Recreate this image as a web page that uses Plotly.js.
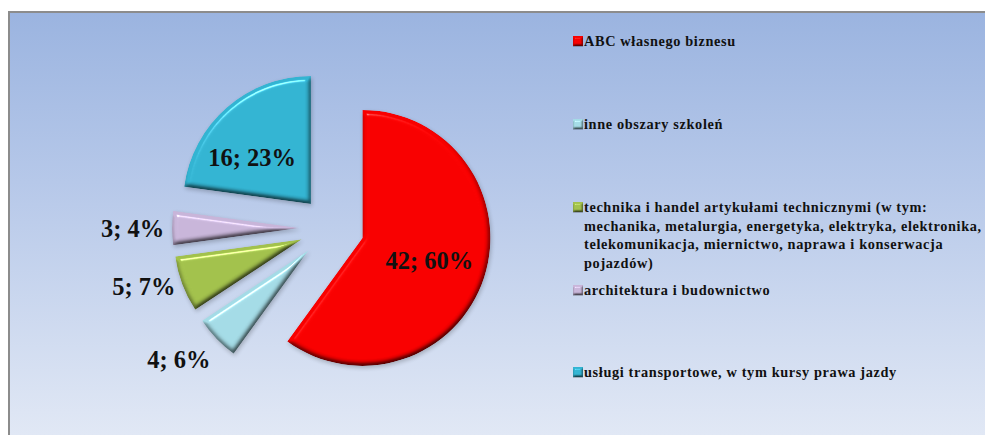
<!DOCTYPE html>
<html><head><meta charset="utf-8">
<script src="https://cdn.plot.ly/plotly-3.0.1.min.js"></script>
<style>
html,body{margin:0;padding:0;background:#fff;width:985px;height:435px;overflow:hidden}
#bg{position:absolute;left:8px;top:11px;width:977px;height:424px;box-sizing:border-box;border-left:2px solid #8c8c8c;border-top:2px solid #8c8c8c;background:linear-gradient(180deg,#9bb4e0 0%,#b6c8e9 40%,#e1e8f5 100%)}
#chart{position:absolute;left:0;top:0;width:985px;height:435px}
#chart .annotation-text{letter-spacing:.64px}
</style></head><body>
<div id="bg"></div><div id="chart"></div>
<script>
const categories=["ABC własnego biznesu","inne obszary szkoleń","technika i handel artykułami technicznymi (w tym:<br>mechanika, metalurgia, energetyka, elektryka, elektronika,<br>telekomunikacja, miernictwo, naprawa i konserwacja<br>pojazdów)","architektura i budownictwo","usługi transportowe, w tym kursy prawa jazdy"];
const values=[42,4,5,3,16];
const colors=["#f80000","#a4dbe6","#a2c14c","#c8b5d9","#33b4d2"];
const textPositions=["inside","outside","outside","outside","inside"];
const legendY=[41,124,207,290,372];
const labelNudges=[[6,3],[1,14],[0,1],[-1,0],[-8,12]];
const W=985,H=435;
const serif='"Liberation Serif",serif';
const annotations=categories.map((c,i)=>({xref:'paper',yref:'paper',x:583/W,y:1-(legendY[i]-9)/H,xanchor:'left',yanchor:'top',align:'left',showarrow:false,text:c,borderpad:0,font:{family:serif,size:14.3,weight:700,color:'#111'}}));
const shapes=categories.map((c,i)=>({type:'rect',xref:'paper',yref:'paper',x0:573/W,x1:583/W,y0:1-(legendY[i]-5)/H,y1:1-(legendY[i]+5)/H,fillcolor:colors[i],line:{width:0}}));
const lf={family:serif,size:24.5,weight:700,color:'#111'};
const data=[{type:'pie',labels:categories.map(c=>c.replace(/<br>/g,' ')),values:values,sort:false,direction:'clockwise',rotation:0,
 pull:[.25,.25,.25,.25,.25],
 marker:{colors:colors,line:{width:0}},
 texttemplate:'%{value}; %{percent:.0%}',textposition:textPositions,
 textfont:lf,insidetextfont:lf,outsidetextfont:lf,
 automargin:false,hoverinfo:'label+value+percent',insidetextorientation:'horizontal',
 domain:{x:[172/W,492/W],y:[1-388/H,1-68/H]},showlegend:false}];
const layout={width:W,height:H,margin:{l:0,r:0,t:0,b:0},paper_bgcolor:'rgba(0,0,0,0)',plot_bgcolor:'rgba(0,0,0,0)',showlegend:false,annotations,shapes};
function makeFilter(id,blur,scale,dx){
 const NS='http://www.w3.org/2000/svg';
 const f=document.createElementNS(NS,'filter');
 f.setAttribute('id',id);f.setAttribute('x','-20%');f.setAttribute('y','-20%');f.setAttribute('width','140%');f.setAttribute('height','140%');
 f.setAttribute('color-interpolation-filters','sRGB');
 f.innerHTML=`<feGaussianBlur in="SourceAlpha" stdDeviation="${blur}" result="b"/>
 <feDiffuseLighting in="b" surfaceScale="${scale}" diffuseConstant="1.155" lighting-color="#fff" result="d"><feDistantLight azimuth="250" elevation="60"/></feDiffuseLighting>
 <feComposite in="SourceGraphic" in2="d" operator="arithmetic" k1="1" k2="0" k3="0" k4="0" result="lit"/>
 <feSpecularLighting in="b" surfaceScale="${scale}" specularConstant=".5" specularExponent="130" lighting-color="#fff" result="s"><feDistantLight azimuth="250" elevation="60"/></feSpecularLighting>
 <feComposite in="lit" in2="s" operator="arithmetic" k1="0" k2="1" k3="1" k4="0" result="sum"/>
 <feComposite in="sum" in2="SourceAlpha" operator="in" result="clip"/>
 <feGaussianBlur in="SourceAlpha" stdDeviation="${dx}" result="sb"/>
 <feOffset in="sb" dx="${dx/2}" dy="${dx}" result="so"/>
 <feComponentTransfer in="so" result="sh"><feFuncA type="linear" slope=".22"/></feComponentTransfer>
 <feMerge><feMergeNode in="sh"/><feMergeNode in="clip"/></feMerge>`;
 return f;
}
Plotly.newPlot('chart',data,layout,{displayModeBar:false,staticPlot:true}).then(gd=>{
 const svg=gd.querySelector('.main-svg');
 let defs=svg.querySelector('defs');
 defs.appendChild(makeFilter('bevel',2.5,3,2));
 defs.appendChild(makeFilter('bevelSmall',1,1.5,.6));
 gd.querySelectorAll('.slice').forEach((s,i)=>{
  const p=s.querySelector('path.surface');
  if(p)p.setAttribute('filter','url(#bevel)');
  const t=s.querySelector('.slicetext');
  if(t){const n=labelNudges[i];t.setAttribute('transform',`translate(${n[0]},${n[1]}) `+(t.getAttribute('transform')||''));}
 });
 gd.querySelectorAll('.shapelayer path').forEach(p=>p.setAttribute('filter','url(#bevelSmall)'));
});
</script></body></html>
